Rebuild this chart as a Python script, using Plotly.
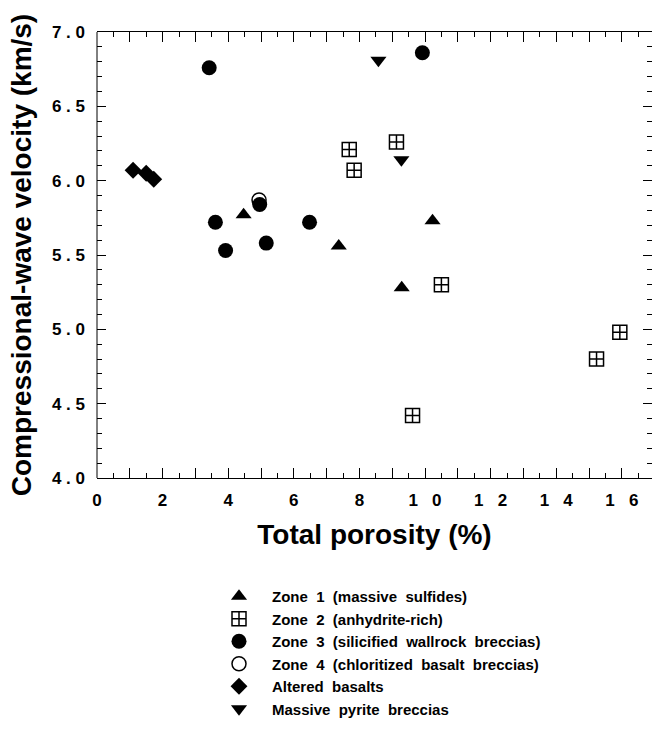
import plotly.graph_objects as go

# Total porosity (%) and compressional-wave velocity (km/s) by lithology group
zone1_porosity = [4.47, 7.37, 9.29, 10.23]
zone1_vp = [5.77, 5.56, 5.28, 5.73]

zone2_porosity = [7.69, 7.84, 9.13, 10.50, 15.94, 15.23, 9.62]
zone2_vp = [6.21, 6.07, 6.26, 5.30, 4.98, 4.80, 4.42]

zone3_porosity = [3.42, 3.61, 3.92, 4.96, 5.16, 6.48, 9.92]
zone3_vp = [6.76, 5.72, 5.53, 5.84, 5.58, 5.72, 6.86]

zone4_porosity = [4.94]
zone4_vp = [5.87]

basalt_porosity = [1.10, 1.50, 1.73]
basalt_vp = [6.07, 6.05, 6.01]

pyrite_porosity = [8.58, 9.28]
pyrite_vp = [6.81, 6.14]

series_names = [
    "Zone 1 (massive sulfides)",
    "Zone 2 (anhydrite-rich)",
    "Zone 3 (silicified wallrock breccias)",
    "Zone 4 (chloritized basalt breccias)",
    "Altered basalts",
    "Massive pyrite breccias",
]

x_label_values = [0, 2, 4, 6, 8, 10, 12, 14, 16]
x_tick_labels = ["0", "2", "4", "6", "8", "10", "12", "14", "16"]
y_label_values = [4.0, 4.5, 5.0, 5.5, 6.0, 6.5, 7.0]
y_tick_labels = ["4.0", "4.5", "5.0", "5.5", "6.0", "6.5", "7.0"]

FONT = "Liberation Sans, Arial, Helvetica, sans-serif"
NB = "\u00a0"


def spread(text, gap):
    """Letter-spaced, bold label text (non-breaking spaces between characters)."""
    return "<b>" + gap.join(text) + "</b>"


def wide_words(text):
    return text.replace(" ", NB * 2)


series = [
    (zone1_porosity, zone1_vp, "triangle-up", 14, 0),
    (zone2_porosity, zone2_vp, "square-cross-open", 14, 1.5),
    (zone3_porosity, zone3_vp, "circle", 15, 0),
    (zone4_porosity, zone4_vp, "circle-open", 14, 1.5),
    (basalt_porosity, basalt_vp, "diamond", 13, 0),
    (pyrite_porosity, pyrite_vp, "triangle-down", 14, 0),
]

fig = go.Figure()
for i, (xs, ys, symbol, size, lw) in enumerate(series):
    fig.add_trace(go.Scatter(
        x=xs, y=ys, mode="markers",
        name=wide_words(series_names[i]),
        legendgroup=f"g{i}",
        marker=dict(symbol=symbol, size=size, color="black",
                    line=dict(width=lw, color="black")),
    ))

# major x ticks every 1 %, labelled every 2 %
x_major = list(range(0, 17))
x_major_text = []
for v in x_major:
    if v in x_label_values:
        x_major_text.append(spread(x_tick_labels[x_label_values.index(v)], NB * 3))
    else:
        x_major_text.append("")

tick_font = dict(family=FONT, size=17, color="black", weight="bold")
title_font = dict(family=FONT, size=28, color="black", weight="bold")

fig.update_layout(
    width=652, height=738,
    margin=dict(l=97, r=0, t=32, b=260),
    paper_bgcolor="white", plot_bgcolor="white",
    showlegend=True,
    legend=dict(
        x=(206 - 97) / 555, xanchor="left",
        y=(478 - 580) / 446, yanchor="top",
        font=dict(family=FONT, size=15, color="black", weight="bold"),
        itemwidth=56, tracegroupgap=0,
        bgcolor="rgba(0,0,0,0)",
    ),
    xaxis=dict(
        range=[0, 555 / 32.8],
        showgrid=False, zeroline=False,
        showline=True, linecolor="black", linewidth=1, mirror="ticks",
        ticks="inside", ticklen=10, tickwidth=1, tickcolor="black",
        tickmode="array", tickvals=x_major, ticktext=x_major_text,
        tickfont=tick_font, ticklabelstandoff=7,
        minor=dict(ticks="inside", dtick=0.5, ticklen=5, tickwidth=1,
                   tickcolor="black", showgrid=False),
        title=dict(text="Total porosity (%)", font=title_font, standoff=14),
    ),
    yaxis=dict(
        range=[4, 7],
        showgrid=False, zeroline=False,
        showline=False, mirror="ticks",
        ticks="inside", ticklen=9, tickwidth=1, tickcolor="black",
        tickmode="array", tickvals=y_label_values,
        ticktext=[spread(t, NB) for t in y_tick_labels],
        tickfont=tick_font, ticklabelstandoff=11,
        minor=dict(ticks="inside", dtick=0.1, ticklen=5, tickwidth=1,
                   tickcolor="black", showgrid=False),
        title=dict(text="Compressional-wave velocity (km/s)", font=title_font, standoff=12),
    ),
    shapes=[dict(type="line", xref="paper", yref="paper", x0=0, x1=0, y0=0, y1=1,
                 line=dict(color="black", width=1))],
)

fig.write_html("out.html")
